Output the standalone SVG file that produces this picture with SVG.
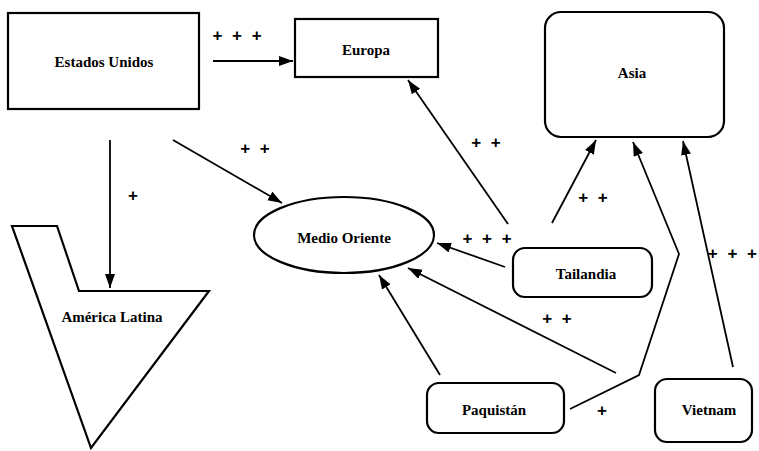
<svg xmlns="http://www.w3.org/2000/svg" width="759" height="451" viewBox="0 0 759 451">
<style>
.box{fill:#fff;stroke:#000;stroke-width:2.2}
.lbl{font-family:"Liberation Serif","Times New Roman",serif;font-weight:bold;font-size:15px;text-anchor:middle;fill:#000}
.pl{font-family:"Liberation Sans",Arial,sans-serif;font-weight:bold;font-size:17px;text-anchor:middle;fill:#000;word-spacing:5px}
.ln{fill:none;stroke:#000;stroke-width:1.8}
</style>
<defs>
<marker id="ah" markerUnits="userSpaceOnUse" markerWidth="16" markerHeight="12" refX="14" refY="5" orient="auto">
<path d="M0,0 L14,5 L0,10 Z" fill="#000"/>
</marker>
</defs>
<rect width="759" height="451" fill="#fff"/>
<g id="connectors">
<line class="ln" x1="213" y1="61" x2="293" y2="61" marker-end="url(#ah)"/>
<line class="ln" x1="110" y1="140" x2="110" y2="288" marker-end="url(#ah)"/>
<line class="ln" x1="173" y1="140" x2="282" y2="203" marker-end="url(#ah)"/>
<line class="ln" x1="508" y1="224" x2="408" y2="80" marker-end="url(#ah)"/>
<line class="ln" x1="505" y1="267" x2="437" y2="243" marker-end="url(#ah)"/>
<line class="ln" x1="552" y1="223" x2="596" y2="140" marker-end="url(#ah)"/>
<polyline class="ln" points="570,409 639,375 679,254 633,142" marker-end="url(#ah)"/>
<line class="ln" x1="733" y1="367" x2="683" y2="141" marker-end="url(#ah)"/>
<line class="ln" x1="616" y1="373" x2="408" y2="268" marker-end="url(#ah)"/>
<line class="ln" x1="440" y1="375" x2="379" y2="275" marker-end="url(#ah)"/>
<text class="pl" x="237" y="41">+ + +</text>
<text class="pl" x="486" y="148">+ +</text>
<text class="pl" x="255" y="154">+ +</text>
<text class="pl" x="133" y="201">+</text>
<text class="pl" x="487" y="244">+ + +</text>
<text class="pl" x="593" y="203">+ +</text>
<text class="pl" x="757" y="259" style="text-anchor:end">+ + +</text>
<text class="pl" x="557" y="324">+ +</text>
<text class="pl" x="602" y="416">+</text>
</g>
<g id="estados-unidos">
<rect class="box" x="8" y="13" width="191" height="96"/>
<text class="lbl" x="104" y="67">Estados Unidos</text>
</g>
<g id="europa">
<rect class="box" x="295" y="19" width="143" height="58"/>
<text class="lbl" x="366" y="55">Europa</text>
</g>
<g id="asia">
<rect class="box" x="545" y="12" width="179" height="125" rx="16"/>
<text class="lbl" x="632" y="78">Asia</text>
</g>
<g id="medio-oriente">
<ellipse class="box" cx="344" cy="235" rx="90" ry="38"/>
<text class="lbl" x="344" y="243">Medio Oriente</text>
</g>
<g id="america-latina">
<polygon class="box" points="12,226 57,226 79,291 209,291 91,448"/>
<text class="lbl" x="112" y="322">América Latina</text>
</g>
<g id="tailandia">
<rect class="box" x="513" y="248" width="139" height="49" rx="12"/>
<text class="lbl" x="586" y="279">Tailandia</text>
</g>
<g id="paquistan">
<rect class="box" x="427" y="383" width="137" height="50" rx="12"/>
<text class="lbl" x="494" y="415">Paquistán</text>
</g>
<g id="vietnam">
<rect class="box" x="655" y="379" width="97" height="63" rx="12"/>
<text class="lbl" x="709" y="415">Vietnam</text>
</g>
</svg>
